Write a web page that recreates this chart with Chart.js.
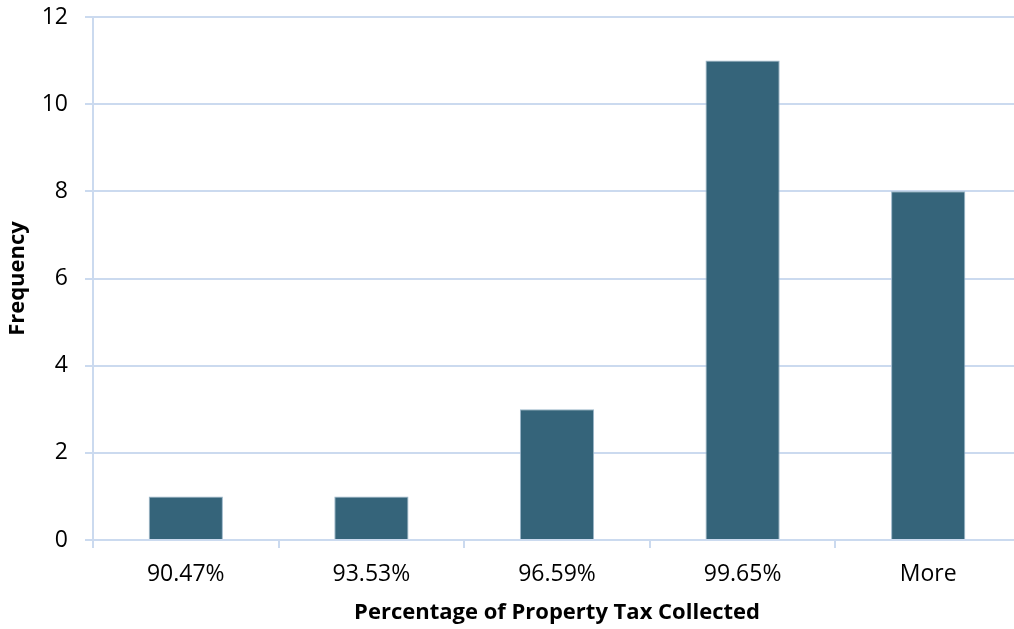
<!DOCTYPE html>
<html>
<head>
<meta charset="utf-8">
<script src="https://cdn.jsdelivr.net/npm/chart.js@4"></script>
<style>
	html, body { margin: 0; padding: 0; background: #ffffff; overflow: hidden; }
	/* the plot runs slightly past the right edge of the window */
	#chart-box { width: 1027px; height: 629px; }
</style>
</head>
<body>
<div id="chart-box"><canvas id="histogram-canvas"></canvas></div>
<script>
const binLabels = ["90.47%", "93.53%", "96.59%", "99.65%", "More"];
const frequencyValues = [1, 1, 3, 11, 8];
const yTicks = [0, 2, 4, 6, 8, 10, 12];

const gridColor = "#cbdaef";
const fontFamily = "'Open Sans', Lato, sans-serif";

new Chart(document.getElementById("histogram-canvas").getContext("2d"),
{
	type: "bar",
	data:
	{
		labels: binLabels,
		datasets:
		[{
			label: "Frequency",
			data: frequencyValues,
			backgroundColor: "#35647a",
			borderColor: "#9bb6c9",
			borderWidth: 1,
			categoryPercentage: 1.0,
			barPercentage: 0.4
		}]
	},
	options:
	{
		responsive: true,
		maintainAspectRatio: false,
		animation: false,
		layout: { padding: { left: 0, right: 6, top: 17, bottom: 0 } },
		plugins:
		{
			legend: { display: false },
			tooltip: { enabled: false }
		},
		scales:
		{
			x:
			{
				grid:
				{
					offset: true,
					drawOnChartArea: false,
					color: gridColor,
					lineWidth: 2,
					tickLength: 8
				},
				border: { color: gridColor, width: 2 },
				ticks:
				{
					color: "#000000",
					padding: 13,
					maxRotation: 0,
					font: { family: fontFamily, size: 23 }
				},
				title:
				{
					display: true,
					text: "Percentage of Property Tax Collected",
					color: "#000000",
					padding: { top: 0, bottom: 3 },
					font: { family: fontFamily, size: 22, weight: "bold" }
				},
				afterFit: function(scale)
				{
					scale.height = 89;
					scale.paddingLeft = 0;
					scale.paddingRight = 0;
				}
			},
			y:
			{
				min: yTicks[0],
				max: yTicks[yTicks.length - 1],
				afterBuildTicks: function(scale)
				{
					scale.ticks = yTicks.map(v => ({ value: v }));
				},
				grid:
				{
					color: gridColor,
					lineWidth: 2,
					tickLength: 8
				},
				border: { color: gridColor, width: 2 },
				ticks:
				{
					color: "#000000",
					padding: 17,
					font: { family: fontFamily, size: 23 }
				},
				title:
				{
					display: true,
					text: "Frequency",
					color: "#000000",
					padding: { top: 5, bottom: 0 },
					font: { family: fontFamily, size: 22, weight: "bold" }
				},
				afterFit: function(scale)
				{
					scale.width = 93;
					scale.paddingTop = 0;
					scale.paddingBottom = 0;
				}
			}
		}
	}
});
</script>
</body>
</html>
